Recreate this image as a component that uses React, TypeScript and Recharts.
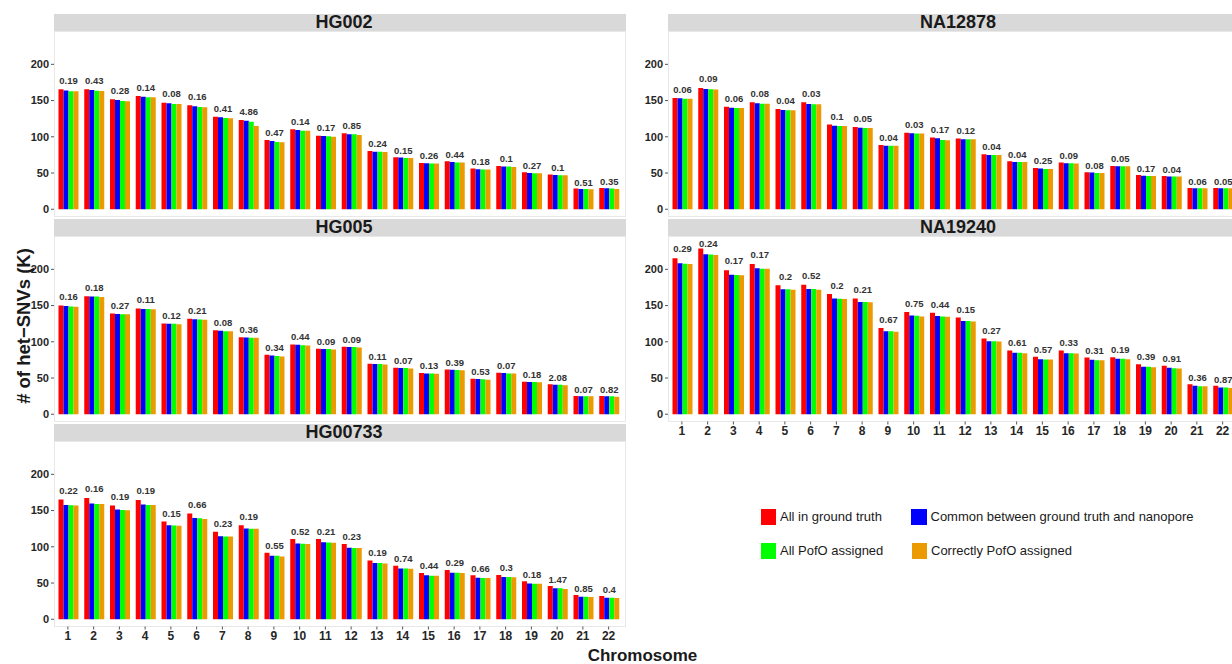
import React from 'react';
import { BarChart, Bar, XAxis, YAxis, LabelList } from 'recharts';

// Chromosomes on the x axis
const chromosomes = ['1', '2', '3', '4', '5', '6', '7', '8', '9', '10', '11', '12', '13', '14', '15', '16', '17', '18', '19', '20', '21', '22'];

// HG002 (thousands of het-SNVs)
const hg002All = [165.5, 165.5, 151.7, 156.3, 147.1, 143.4, 127.8, 123.2, 95.6, 110.3, 101.6, 104.8, 80.5, 71.7, 63.9, 66.2, 56.1, 59.8, 51.0, 47.8, 28.5, 29.4];
const hg002Common = [164.0, 164.6, 150.8, 155.4, 146.2, 142.0, 126.9, 122.3, 94.3, 109.4, 101.1, 103.4, 79.5, 71.3, 63.4, 65.3, 55.2, 58.9, 50.1, 47.4, 28.0, 29.0];
const hg002Pofo = [163.0, 163.7, 149.4, 154.5, 145.3, 141.1, 126.0, 120.9, 92.9, 108.5, 100.7, 103.4, 79.5, 70.8, 63.0, 64.4, 54.7, 58.9, 49.7, 46.9, 28.0, 28.5];
const hg002Correct = [162.8, 163.2, 149.0, 154.5, 145.3, 140.7, 125.5, 115.0, 92.4, 108.5, 100.2, 102.5, 79.1, 70.8, 63.0, 64.4, 54.7, 58.4, 49.7, 46.9, 27.6, 28.0];
const hg002Err = ['0.19', '0.43', '0.28', '0.14', '0.08', '0.16', '0.41', '4.86', '0.47', '0.14', '0.17', '0.85', '0.24', '0.15', '0.26', '0.44', '0.18', '0.1', '0.27', '0.1', '0.51', '0.35'];

// HG005
const hg005All = [150.0, 162.8, 139.0, 145.9, 125.2, 131.7, 116.1, 106.4, 82.1, 96.3, 90.4, 93.1, 69.7, 64.2, 56.9, 61.9, 49.1, 57.3, 45.0, 41.3, 25.2, 25.2];
const hg005Common = [149.5, 162.4, 138.5, 145.4, 124.8, 131.2, 115.1, 106.0, 81.2, 95.9, 89.9, 92.7, 69.3, 63.8, 56.4, 61.5, 48.6, 56.9, 44.5, 40.8, 24.8, 24.8];
const hg005Pofo = [148.6, 162.4, 138.1, 145.4, 124.8, 130.7, 114.7, 105.5, 80.3, 95.4, 89.9, 92.7, 69.3, 63.8, 56.4, 61.0, 48.2, 56.4, 44.5, 40.8, 24.8, 24.8];
const hg005Correct = [148.2, 161.9, 138.1, 145.0, 124.3, 130.3, 114.7, 105.5, 79.8, 95.0, 89.4, 92.2, 68.8, 63.3, 56.0, 60.6, 47.7, 56.4, 44.0, 39.9, 24.8, 24.3];
const hg005Err = ['0.16', '0.18', '0.27', '0.11', '0.12', '0.21', '0.08', '0.36', '0.34', '0.44', '0.09', '0.09', '0.11', '0.07', '0.13', '0.39', '0.53', '0.07', '0.18', '2.08', '0.07', '0.82'];

// HG00733
const hg00733All = [165.1, 167.4, 156.9, 164.7, 134.9, 145.9, 120.6, 129.8, 91.7, 110.6, 110.6, 103.7, 81.2, 73.9, 63.8, 67.9, 60.6, 61.0, 52.3, 45.9, 33.5, 32.1];
const hg00733Common = [157.8, 159.6, 151.4, 158.3, 129.8, 139.9, 114.7, 125.2, 87.6, 104.6, 106.4, 98.6, 77.5, 70.2, 60.6, 64.2, 57.3, 58.3, 49.5, 42.7, 31.2, 29.8];
const hg00733Pofo = [157.3, 159.2, 150.9, 157.8, 129.4, 139.4, 114.2, 124.8, 87.6, 104.1, 106.0, 98.2, 77.5, 70.2, 60.1, 64.2, 56.9, 58.3, 49.1, 42.7, 31.2, 29.8];
const hg00733Correct = [156.9, 159.2, 150.5, 157.8, 128.9, 138.5, 114.2, 124.8, 86.7, 103.7, 105.5, 98.2, 77.1, 69.7, 60.1, 63.8, 56.9, 57.8, 49.1, 41.7, 30.7, 29.4];
const hg00733Err = ['0.22', '0.16', '0.19', '0.19', '0.15', '0.66', '0.23', '0.19', '0.55', '0.52', '0.21', '0.23', '0.19', '0.74', '0.44', '0.29', '0.66', '0.3', '0.18', '1.47', '0.85', '0.4'];

// NA12878
const na12878All = [153.6, 167.4, 141.6, 147.6, 138.4, 147.6, 116.8, 113.6, 88.7, 105.7, 98.9, 97.5, 75.9, 66.2, 57.0, 64.4, 51.0, 59.8, 47.4, 46.0, 29.4, 29.4];
const na12878Common = [153.1, 166.0, 140.2, 146.2, 137.0, 145.3, 115.4, 112.6, 87.8, 104.8, 97.9, 96.6, 74.9, 65.3, 56.1, 63.4, 50.6, 59.3, 46.4, 45.1, 29.0, 29.0];
const na12878Pofo = [152.6, 165.5, 139.8, 145.7, 136.6, 144.8, 114.9, 112.2, 87.8, 104.4, 95.6, 96.6, 74.9, 65.3, 55.6, 63.4, 50.1, 59.3, 46.0, 45.1, 29.0, 29.0];
const na12878Correct = [152.5, 165.4, 139.7, 145.6, 136.5, 144.8, 114.8, 112.1, 87.7, 104.4, 95.4, 96.5, 74.9, 65.3, 55.5, 63.3, 50.1, 59.3, 45.9, 45.1, 29.0, 29.0];
const na12878Err = ['0.06', '0.09', '0.06', '0.08', '0.04', '0.03', '0.1', '0.05', '0.04', '0.03', '0.17', '0.12', '0.04', '0.04', '0.25', '0.09', '0.08', '0.05', '0.17', '0.04', '0.06', '0.05'];

// NA19240
const na19240All = [215.2, 228.6, 198.6, 207.4, 177.9, 178.8, 165.9, 159.9, 118.9, 141.0, 140.1, 133.6, 104.6, 88.0, 79.3, 88.0, 78.3, 78.8, 69.1, 66.8, 41.5, 39.2];
const na19240Common = [208.3, 220.7, 192.6, 201.4, 172.4, 172.8, 159.9, 154.8, 114.7, 136.4, 135.5, 128.6, 100.9, 84.8, 76.0, 84.3, 75.1, 76.5, 65.4, 64.1, 39.2, 36.9];
const na19240Pofo = [207.8, 220.3, 192.2, 200.9, 172.4, 172.8, 159.4, 154.8, 114.7, 135.9, 135.0, 128.6, 100.9, 84.8, 75.6, 84.3, 74.7, 76.5, 65.4, 63.6, 38.7, 36.9];
const na19240Correct = [207.4, 219.8, 191.7, 200.9, 171.9, 171.9, 159.0, 154.4, 113.8, 135.0, 134.6, 128.1, 100.5, 84.3, 75.6, 83.9, 74.7, 76.0, 65.0, 63.1, 38.7, 36.4];
const na19240Err = ['0.29', '0.24', '0.17', '0.17', '0.2', '0.52', '0.2', '0.21', '0.67', '0.75', '0.44', '0.15', '0.27', '0.61', '0.57', '0.33', '0.31', '0.19', '0.39', '0.91', '0.36', '0.87'];

const yTicks = [0, 50, 100, 150, 200];

const FONT = '"Liberation Sans", Arial, Helvetica, sans-serif';

const SERIES = [
  { key: 'all', name: 'All in ground truth', color: '#FF0000' },
  { key: 'common', name: 'Common between ground truth and nanopore', color: '#0000FF' },
  { key: 'pofo', name: 'All PofO assigned', color: '#00FF00' },
  { key: 'correct', name: 'Correctly PofO assigned', color: '#EB9B00' },
];

type Row = { chr: string; all: number; common: number; pofo: number; correct: number; err: string };

function buildRows(all: number[], common: number[], pofo: number[], correct: number[], err: string[]): Row[] {
  return chromosomes.map((chr, i) => ({
    chr,
    all: all[i],
    common: common[i],
    pofo: pofo[i],
    correct: correct[i],
    err: err[i],
  }));
}

// Error-rate label centred over the whole group of four bars,
// kept inside the plotting area when the tallest bar nearly reaches the top
const GroupLabel = (props: any) => {
  const x = Number(props.x);
  const y = Number(props.y);
  const w = Number(props.width);
  const h = Number(props.height);
  const cx = x + w * 2;
  const gap = 2.5 + 0.025 * h;
  const baseline = Math.max(y - gap, 10.5);
  return (
    <text
      x={cx}
      y={baseline}
      textAnchor="middle"
      fontSize={9.5}
      fontWeight={700}
      fill="#333333"
      fontFamily={FONT}
    >
      {props.value}
    </text>
  );
};

const AXIS_W = 54;
const PLOT_W = 572;
const PLOT_H = 185.5;
const STRIP_H = 17.5;
const X_AXIS_H = 22;

function Panel({ title, rows, left, top, showX }: { title: string; rows: Row[]; left: number; top: number; showX: boolean }) {
  const axisH = showX ? X_AXIS_H : 0;
  return (
    <div style={{ position: 'absolute', left, top, width: AXIS_W + PLOT_W, height: STRIP_H + PLOT_H + axisH }}>
      <div
        style={{
          position: 'absolute',
          left: AXIS_W,
          top: 0,
          width: PLOT_W,
          height: STRIP_H,
          background: '#D9D9D9',
          color: '#1A1A1A',
          fontFamily: FONT,
          fontWeight: 700,
          fontSize: 18,
          lineHeight: `${STRIP_H}px`,
          textAlign: 'center',
          paddingLeft: 8,
          boxSizing: 'border-box',
          whiteSpace: 'nowrap',
        }}
      >
        {title}
      </div>
      <div
        style={{
          position: 'absolute',
          left: AXIS_W,
          top: STRIP_H,
          width: PLOT_W,
          height: PLOT_H,
          border: '1px solid #E8E8E8',
          boxSizing: 'border-box',
        }}
      />
      <div style={{ position: 'absolute', left: 0, top: STRIP_H }}>
        <BarChart
          width={AXIS_W + PLOT_W}
          height={PLOT_H + axisH}
          data={rows}
          margin={{ top: 0, right: 0, bottom: 0, left: 0 }}
          barGap={0}
          barCategoryGap={3.5}
        >
          <XAxis
            dataKey="chr"
            hide={!showX}
            height={axisH}
            interval={0}
            tickSize={3}
            tickMargin={2}
            axisLine={false}
            tickLine={{ stroke: '#555555' }}
            padding={{ left: 1, right: 4.5 }}
            tick={{ fill: '#262626', fontSize: 12, fontWeight: 700, fontFamily: FONT }}
          />
          <YAxis
            width={AXIS_W}
            type="number"
            domain={[-10, 246]}
            ticks={yTicks}
            allowDataOverflow
            interval={0}
            tickSize={3}
            tickMargin={2}
            axisLine={false}
            tickLine={{ stroke: '#555555' }}
            tick={{ fill: '#262626', fontSize: 11, fontWeight: 700, fontFamily: FONT }}
          />
          {SERIES.map((s) => (
            <Bar key={s.key} dataKey={s.key} name={s.name} fill={s.color} isAnimationActive={false}>
              {s.key === 'all' ? <LabelList dataKey="err" content={GroupLabel} /> : null}
            </Bar>
          ))}
        </BarChart>
      </div>
    </div>
  );
}

function LegendItem({ color, label, x, y }: { color: string; label: string; x: number; y: number }) {
  return (
    <>
      <div style={{ position: 'absolute', left: x, top: y - 8, width: 15.5, height: 16, background: color }} />
      <div
        style={{
          position: 'absolute',
          left: x + 19.5,
          top: y - 9,
          height: 18,
          lineHeight: '18px',
          fontFamily: FONT,
          fontSize: 13,
          color: '#1A1A1A',
          whiteSpace: 'nowrap',
        }}
      >
        {label}
      </div>
    </>
  );
}

export default function App() {
  const hg002 = buildRows(hg002All, hg002Common, hg002Pofo, hg002Correct, hg002Err);
  const hg005 = buildRows(hg005All, hg005Common, hg005Pofo, hg005Correct, hg005Err);
  const hg00733 = buildRows(hg00733All, hg00733Common, hg00733Pofo, hg00733Correct, hg00733Err);
  const na12878 = buildRows(na12878All, na12878Common, na12878Pofo, na12878Correct, na12878Err);
  const na19240 = buildRows(na19240All, na19240Common, na19240Pofo, na19240Correct, na19240Err);

  return (
    <div
      style={{
        position: 'fixed',
        left: 0,
        top: 0,
        width: 1232,
        height: 664,
        overflow: 'hidden',
        background: '#FFFFFF',
      }}
    >
      <Panel title="HG002" rows={hg002} left={0} top={13.5} showX={false} />
      <Panel title="HG005" rows={hg005} left={0} top={218.5} showX={false} />
      <Panel title="HG00733" rows={hg00733} left={0} top={423.5} showX={true} />
      <Panel title="NA12878" rows={na12878} left={614} top={13.5} showX={false} />
      <Panel title="NA19240" rows={na19240} left={614} top={218.5} showX={true} />

      <div
        style={{
          position: 'absolute',
          left: 23.5,
          top: 326,
          transform: 'translate(-50%, -50%) rotate(-90deg)',
          fontFamily: FONT,
          fontWeight: 700,
          fontSize: 18.5,
          color: '#1A1A1A',
          whiteSpace: 'nowrap',
        }}
      >
        # of het−SNVs (K)
      </div>
      <div
        style={{
          position: 'absolute',
          left: 642.5,
          top: 656,
          height: 14,
          lineHeight: '14px',
          transform: 'translate(-50%, -50%)',
          fontFamily: FONT,
          fontWeight: 700,
          fontSize: 17,
          color: '#1A1A1A',
          whiteSpace: 'nowrap',
        }}
      >
        Chromosome
      </div>

      <LegendItem color={SERIES[0].color} label={SERIES[0].name} x={760.5} y={516.5} />
      <LegendItem color={SERIES[1].color} label={SERIES[1].name} x={911} y={516.5} />
      <LegendItem color={SERIES[2].color} label={SERIES[2].name} x={760.5} y={550.5} />
      <LegendItem color={SERIES[3].color} label={SERIES[3].name} x={911.5} y={550.5} />
    </div>
  );
}
